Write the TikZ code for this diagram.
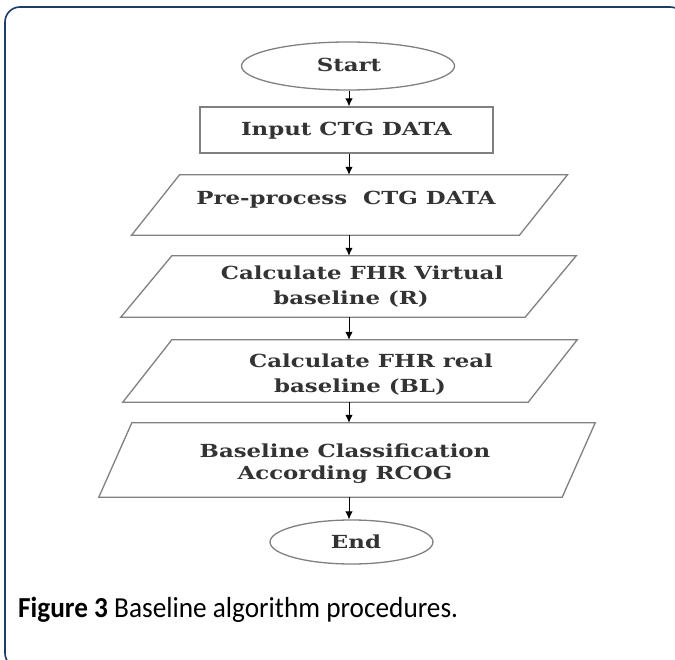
\documentclass[tikz,border=0pt]{standalone}
\usepackage{fontspec}
\usetikzlibrary{shapes.geometric,arrows.meta}
\newfontfamily\flowfont[FakeStretch=1.27]{DejaVu Serif}
\newfontfamily\capfont[FakeStretch=0.94]{Carlito}
\definecolor{framecol}{HTML}{1F3B6B}
\definecolor{boxline}{HTML}{808080}
\definecolor{flowtext}{HTML}{333333}

% outline of a data box: a parallelogram around node #1, top edge shifted right by #2
\newcommand\slantoutline[2]{%
  \draw[outline] ([xshift=-#2/2]#1.south west) -- ([xshift=-#2/2]#1.south east)
    -- ([xshift=#2/2]#1.north east) -- ([xshift=#2/2]#1.north west) -- cycle;}

\begin{document}
\begin{tikzpicture}[x=1pt,y=-1pt,
  outline/.style={draw=boxline, line width=1.3pt, line join=miter},
  box/.style={outline, inner sep=0pt},
  term/.style={box, ellipse},
  proc/.style={box, rectangle},
  iobox/.style={inner sep=0pt, rectangle},
  txt/.style={anchor=base, inner sep=0pt, text=flowtext,
    font=\flowfont\bfseries\fontsize{18}{22}\selectfont},
  flow/.style={-{Latex[length=8pt,width=7.5pt]}, line width=1pt, black}]

  \useasboundingbox (0,0) rectangle (675,660);
  % outer panel frame
  \draw[framecol, line width=1.6pt, rounded corners=15pt] (5,7) rectangle (685,668);

  % flowchart shapes
  \node[term, minimum width=213pt, minimum height=48pt] (start) at (348,66) {};
  \node[proc, minimum width=293pt, minimum height=46pt] (input) at (346.5,130) {};
  \node[iobox, minimum width=387.5pt, minimum height=60pt] (pre) at (349.5,205) {};
  \node[iobox, minimum width=404pt, minimum height=61pt] (virt) at (348.5,286.5) {};
  \node[iobox, minimum width=405pt, minimum height=62pt] (real) at (350,371) {};
  \node[iobox, minimum width=463pt, minimum height=74pt] (cls) at (347,460) {};
  \node[term, minimum width=163pt, minimum height=44pt] (end) at (351.5,542) {};
  \slantoutline{pre}{48pt}
  \slantoutline{virt}{51pt}
  \slantoutline{real}{49pt}
  \slantoutline{cls}{33pt}

  % labels, one node per printed line
  \node[txt] (startT) at (349,72) {Start};
  \node[txt] (inputT) at (346.5,136) {Input CTG DATA};
  \node[txt] (preT) at (346,205) {Pre-process\ \ CTG DATA};
  \node[txt] (virtA) at (362,280) {Calculate FHR Virtual};
  \node[txt] (virtB) at (351,305) {baseline (R)};
  \node[txt] (realA) at (371,367) {Calculate FHR real};
  \node[txt] (realB) at (360,392) {baseline (BL)};
  \node[txt] (clsA) at (345,457) {Baseline Classification};
  \node[txt] (clsB) at (345,479) {According RCOG};
  \node[txt] (endT) at (356,548) {End};

  % connectors
  \coordinate (axis) at (349,0);
  \draw[flow] (axis |- start.south) -- (axis |- input.north);
  \draw[flow] (axis |- input.south) -- (axis |- pre.north);
  \draw[flow] (axis |- pre.south) -- (axis |- virt.north);
  \draw[flow] (axis |- virt.south) -- (axis |- real.north);
  \draw[flow] (axis |- real.south) -- (axis |- cls.north);
  \draw[flow] (axis |- cls.south) -- (axis |- end.north);

  \node[anchor=base west, inner sep=0pt, font=\capfont\fontsize{29}{34}\selectfont] (cap) at (18,617)
    {\textbf{Figure 3} Baseline algorithm procedures.};
\end{tikzpicture}
\end{document}
